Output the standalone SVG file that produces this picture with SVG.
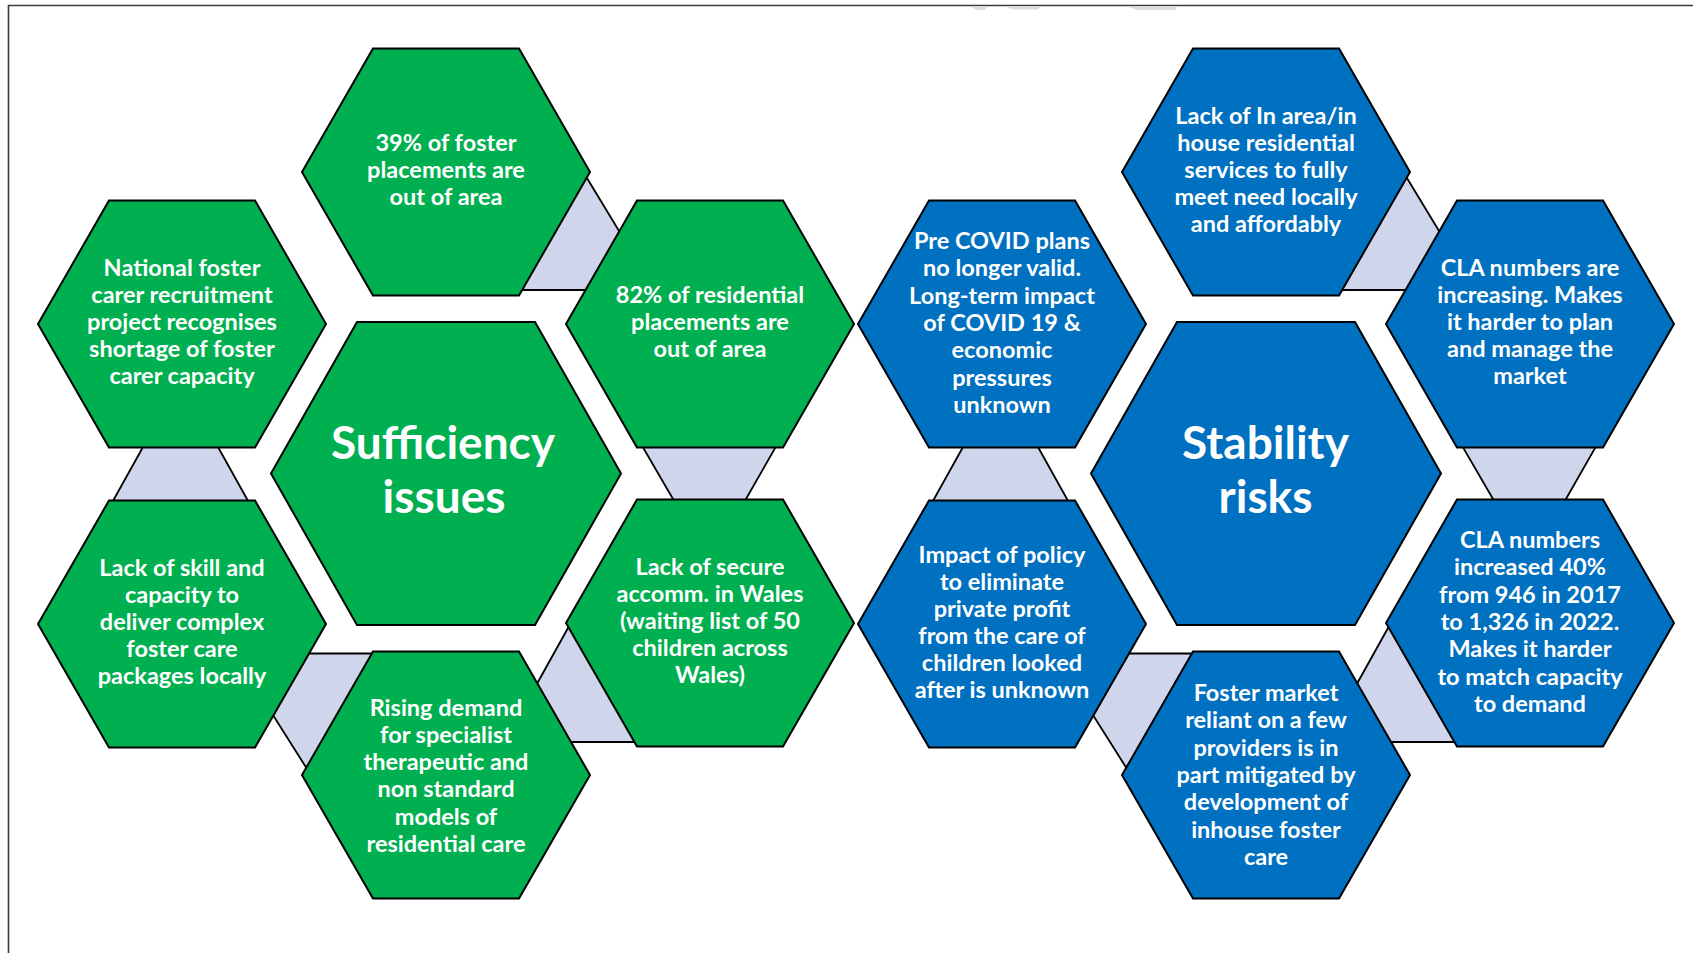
<svg xmlns="http://www.w3.org/2000/svg" width="1693" height="953" viewBox="0 0 1693 953">
<style>
.bg{fill:#ffffff}
.frame{fill:none;stroke:#3a3a3a;stroke-width:1.6}
.wm{fill:#dcdcdc}
.g{fill:#00B050;stroke:#000;stroke-width:2;stroke-linejoin:miter}
.b{fill:#0070C0;stroke:#000;stroke-width:2;stroke-linejoin:miter}
.conn{fill:#CFD5EA;stroke:#000;stroke-width:1.8;stroke-linejoin:miter}
.t{font-family:Lato,"Liberation Sans",sans-serif;font-weight:bold;font-size:23.5px;fill:#fff;text-anchor:middle}
.tt{font-family:Lato,"Liberation Sans",sans-serif;font-weight:bold;font-size:46px;fill:#fff;text-anchor:middle}
</style>
<defs>
<polygon id="hs" points="-73,-123.5 73,-123.5 144,0 73,123.5 -73,123.5 -144,0"/>
<polygon id="hl" points="-89,-151.5 89,-151.5 175,0 89,151.5 -89,151.5 -175,0"/>
</defs>
<rect class="bg" x="0" y="0" width="1693" height="953"/>
<g id="frame">
<polyline class="frame" points="8.5,953 8.5,5.5 1693,5.5"/>
<polygon class="wm" points="970,6.3 987,6.3 985,10 977,10"/>
<polygon class="wm" points="1003,6.3 1042,6.3 1037,9.5 1013,9.5"/>
<polygon class="wm" points="1127,6.3 1178,6.3 1175,10 1137,10"/>
</g>
<g id="connectors">
<g id="connectors-sufficiency">
<polygon class="conn" points="579.2,165.2 626.8,243.8 600,290 505,290"/>
<polygon class="conn" points="636.9,437 781.4,437 739.7,510 679.4,510"/>
<polygon class="conn" points="578,610 526.3,703 560,742 650,742"/>
<polygon class="conn" points="295,653.5 392,653.5 330,790 313.4,779 264.7,702"/>
<polygon class="conn" points="148.6,437 212.4,437 253.1,510 107.9,510"/>
</g>
<g id="connectors-stability" transform="translate(820 0)">
<polygon class="conn" points="579.2,165.2 626.8,243.8 600,290 505,290"/>
<polygon class="conn" points="636.9,437 781.4,437 739.7,510 679.4,510"/>
<polygon class="conn" points="578,610 526.3,703 560,742 650,742"/>
<polygon class="conn" points="295,653.5 392,653.5 330,790 313.4,779 264.7,702"/>
<polygon class="conn" points="148.6,437 212.4,437 253.1,510 107.9,510"/>
</g>
</g>
<g id="sufficiency">
<g id="s-top"><use href="#hs" class="g" transform="translate(446 172)"/>
<text class="t"><tspan x="446" y="151">39% of foster</tspan><tspan x="446" y="178">placements are</tspan><tspan x="446" y="205">out of area</tspan></text></g>
<g id="s-upper-right"><use href="#hs" class="g" transform="translate(710 324)"/>
<text class="t"><tspan x="710" y="303">82% of residential</tspan><tspan x="710" y="330">placements are</tspan><tspan x="710" y="357">out of area</tspan></text></g>
<g id="s-lower-right"><use href="#hs" class="g" transform="translate(710 623)"/>
<text class="t"><tspan x="710" y="575">Lack of secure</tspan><tspan x="710" y="602">accomm. in Wales</tspan><tspan x="710" y="629">(waiting list of 50</tspan><tspan x="710" y="656">children across</tspan><tspan x="710" y="683">Wales)</tspan></text></g>
<g id="s-bottom"><use href="#hs" class="g" transform="translate(446 775)"/>
<text class="t"><tspan x="446" y="715.5">Rising demand</tspan><tspan x="446" y="742.8">for specialist</tspan><tspan x="446" y="770">therapeutic and</tspan><tspan x="446" y="797.3">non standard</tspan><tspan x="446" y="824.6">models of</tspan><tspan x="446" y="851.8">residential care</tspan></text></g>
<g id="s-lower-left"><use href="#hs" class="g" transform="translate(182 624)"/>
<text class="t"><tspan x="182" y="576">Lack of skill and</tspan><tspan x="182" y="603">capacity to</tspan><tspan x="182" y="630">deliver complex</tspan><tspan x="182" y="657">foster care</tspan><tspan x="182" y="684">packages locally</tspan></text></g>
<g id="s-upper-left"><use href="#hs" class="g" transform="translate(182 324)"/>
<text class="t"><tspan x="182" y="276">National foster</tspan><tspan x="182" y="303">carer recruitment</tspan><tspan x="182" y="330">project recognises</tspan><tspan x="182" y="357">shortage of foster</tspan><tspan x="182" y="384">carer capacity</tspan></text></g>
<g id="s-center"><use href="#hl" class="g" transform="translate(446 473.5)"/>
<text class="tt"><tspan x="443" y="458.5">Sufficiency</tspan><tspan x="444" y="513">issues</tspan></text></g>
</g>
<g id="stability">
<g id="r-top"><use href="#hs" class="b" transform="translate(1266 172)"/>
<text class="t"><tspan x="1266" y="124">Lack of In area/in</tspan><tspan x="1266" y="151">house residential</tspan><tspan x="1266" y="178">services to fully</tspan><tspan x="1266" y="205">meet need locally</tspan><tspan x="1266" y="232">and affordably</tspan></text></g>
<g id="r-upper-right"><use href="#hs" class="b" transform="translate(1530 324)"/>
<text class="t"><tspan x="1530" y="276">CLA numbers are</tspan><tspan x="1530" y="303">increasing. Makes</tspan><tspan x="1530" y="330">it harder to plan</tspan><tspan x="1530" y="357">and manage the</tspan><tspan x="1530" y="384">market</tspan></text></g>
<g id="r-lower-right"><use href="#hs" class="b" transform="translate(1530 623)"/>
<text class="t"><tspan x="1530" y="548">CLA numbers</tspan><tspan x="1530" y="575.4">increased 40%</tspan><tspan x="1530" y="602.7">from 946 in 2017</tspan><tspan x="1530" y="630">to 1,326 in 2022.</tspan><tspan x="1530" y="657.4">Makes it harder</tspan><tspan x="1530" y="684.7">to match capacity</tspan><tspan x="1530" y="712">to demand</tspan></text></g>
<g id="r-bottom"><use href="#hs" class="b" transform="translate(1266 775)"/>
<text class="t"><tspan x="1266" y="701">Foster market</tspan><tspan x="1266" y="728.4">reliant on a few</tspan><tspan x="1266" y="755.7">providers is in</tspan><tspan x="1266" y="783">part mitigated by</tspan><tspan x="1266" y="810.4">development of</tspan><tspan x="1266" y="837.7">inhouse foster</tspan><tspan x="1266" y="865">care</tspan></text></g>
<g id="r-lower-left"><use href="#hs" class="b" transform="translate(1002 624)"/>
<text class="t"><tspan x="1002" y="562.5">Impact of policy</tspan><tspan x="1002" y="589.5">to eliminate</tspan><tspan x="1002" y="616.5">private profit</tspan><tspan x="1002" y="643.5">from the care of</tspan><tspan x="1002" y="670.5">children looked</tspan><tspan x="1002" y="697.5">after is unknown</tspan></text></g>
<g id="r-upper-left"><use href="#hs" class="b" transform="translate(1002 324)"/>
<text class="t"><tspan x="1002" y="249">Pre COVID plans</tspan><tspan x="1002" y="276.4">no longer valid.</tspan><tspan x="1002" y="303.7">Long-term impact</tspan><tspan x="1002" y="331">of COVID 19 &amp;</tspan><tspan x="1002" y="358.4">economic</tspan><tspan x="1002" y="385.7">pressures</tspan><tspan x="1002" y="413">unknown</tspan></text></g>
<g id="r-center"><use href="#hl" class="b" transform="translate(1266 473.5)"/>
<text class="tt"><tspan x="1265.5" y="458.5">Stability</tspan><tspan x="1265.5" y="513">risks</tspan></text></g>
</g>
</svg>
